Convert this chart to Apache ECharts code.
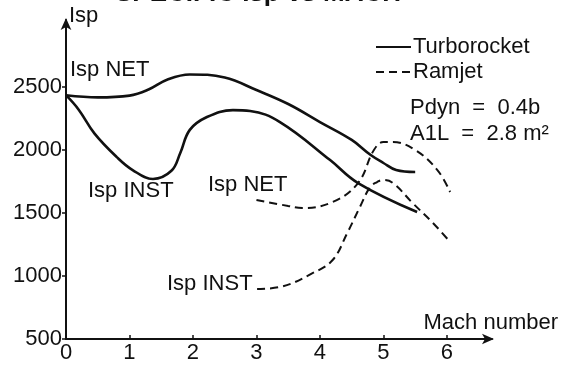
<!DOCTYPE html>
<html>
<head>
<meta charset="utf-8">
<script src="https://cdn.jsdelivr.net/npm/echarts@6/dist/echarts.min.js"></script>
<style>html,body{margin:0;padding:0;background:#fff}#c{width:561px;height:367px}</style>
</head>
<body>
<div id="c"></div>
<script>
// ---- data ----
const machTicks = [0, 1, 2, 3, 4, 5, 6];
const ispTicks = [500, 1000, 1500, 2000, 2500];

const turboNetMach = [0, 0.5, 1.0, 1.3, 1.6, 1.95, 2.5, 3.0, 3.5, 4.0, 4.5, 4.8, 5.0, 5.2, 5.5];
const turboNetIsp  = [2435, 2418, 2432, 2480, 2560, 2600, 2575, 2476, 2365, 2222, 2080, 1960, 1897, 1841, 1825];

const turboInstMach = [0, 0.2, 0.45, 0.8, 1.05, 1.37, 1.66, 1.8, 1.95, 2.22, 2.63, 2.9, 3.37, 4.16, 4.6, 5.53];
const turboInstIsp  = [2435, 2320, 2130, 1944, 1841, 1770, 1835, 1976, 2160, 2262, 2317, 2310, 2222, 1920, 1738, 1508];

const ramNetMach = [3.0, 3.5, 3.72, 4.2, 4.6, 4.85, 5.0, 5.15, 5.5, 5.85, 6.05];
const ramNetIsp  = [1603, 1556, 1540, 1587, 1738, 2000, 2063, 2063, 2000, 1841, 1667];

const ramInstMach = [3.01, 3.37, 3.89, 4.2, 4.43, 4.63, 4.79, 4.9, 4.99, 5.15, 5.46, 5.78, 6.05];
const ramInstIsp  = [897, 913, 1024, 1127, 1341, 1548, 1706, 1746, 1762, 1738, 1579, 1421, 1270];

const zip = (xs, ys) => xs.map((x, i) => [x, ys[i]]);
const FONT = '"Liberation Sans", Arial, Helvetica, sans-serif';
const FS = 22;

const chart = echarts.init(document.getElementById('c'), null, {renderer: 'canvas'});
const solid = {color: '#111', width: 2.6, type: 'solid'};
const dashed = {color: '#111', width: 2, type: [8, 5]};

chart.setOption({
  animation: false,
  backgroundColor: '#fff',
  grid: {left: 66, right: 69, top: 20, bottom: 28},
  xAxis: {
    type: 'value', min: 0, max: 6.71, interval: 1,
    axisLine: {lineStyle: {color: '#111', width: 2}, symbol: ['none', 'arrow'], symbolSize: [8, 12], symbolOffset: [0, 2]},
    axisTick: {inside: true, length: 4, lineStyle: {color: '#111', width: 1.5}, customValues: machTicks},
    axisLabel: {color: '#111', fontSize: FS, fontFamily: FONT, margin: 3, customValues: machTicks, formatter: v => String(v)},
    splitLine: {show: false}
  },
  yAxis: {
    type: 'value', min: 500, max: 3032, interval: 500,
    axisLine: {lineStyle: {color: '#111', width: 2}, symbol: ['none', 'arrow'], symbolSize: [8, 12], symbolOffset: [0, 2]},
    axisTick: {inside: false, length: 4, lineStyle: {color: '#111', width: 1.5}, customValues: ispTicks},
    axisLabel: {color: '#111', fontSize: FS, fontFamily: FONT, margin: 4, customValues: ispTicks, formatter: v => String(v)},
    splitLine: {show: false}
  },
  legend: {
    orient: 'vertical', left: 375, top: 36, itemWidth: 35, itemHeight: 14, itemGap: 3, padding: 0,
    data: ['Turborocket', 'Ramjet'],
    itemStyle: {opacity: 0},
    textStyle: {color: '#111', fontSize: FS, fontFamily: FONT, lineHeight: 22, padding: [0, 0, 0, -3]}
  },
  series: [
    {name: 'Turborocket', type: 'line', data: zip(turboNetMach, turboNetIsp), smooth: 0.4, symbol: 'none', lineStyle: solid, itemStyle: {color: '#111'}},
    {name: 'Turborocket', type: 'line', data: zip(turboInstMach, turboInstIsp), smooth: 0.4, symbol: 'none', lineStyle: solid, itemStyle: {color: '#111'}},
    {name: 'Ramjet', type: 'line', data: zip(ramNetMach, ramNetIsp), smooth: 0.4, symbol: 'none', lineStyle: dashed, itemStyle: {color: '#111'}},
    {name: 'Ramjet', type: 'line', data: zip(ramInstMach, ramInstIsp), smooth: 0.4, symbol: 'none', lineStyle: dashed, itemStyle: {color: '#111'}}
  ],
  graphic: [
    {type: 'text', left: 115, top: -19, style: {text: 'SPECIFIC Isp vs MACH', font: 'bold 26px ' + FONT, fill: '#111'}},
    {type: 'text', x: 69, y: 16, style: {text: 'Isp', font: FS + 'px ' + FONT, fill: '#111', verticalAlign: 'middle'}},
    {type: 'text', x: 558, y: 323, style: {text: 'Mach number', font: FS + 'px ' + FONT, fill: '#111', align: 'right', verticalAlign: 'middle'}},
    {type: 'text', x: 70, y: 70, style: {text: 'Isp NET', font: FS + 'px ' + FONT, fill: '#111', verticalAlign: 'middle'}},
    {type: 'text', x: 88, y: 191, style: {text: 'Isp INST', font: FS + 'px ' + FONT, fill: '#111', verticalAlign: 'middle'}},
    {type: 'text', x: 208, y: 185, style: {text: 'Isp NET', font: FS + 'px ' + FONT, fill: '#111', verticalAlign: 'middle'}},
    {type: 'text', x: 167, y: 284, style: {text: 'Isp INST', font: FS + 'px ' + FONT, fill: '#111', verticalAlign: 'middle'}},
    {type: 'text', x: 410, y: 108, style: {text: 'Pdyn  =  0.4b', font: FS + 'px ' + FONT, fill: '#111', verticalAlign: 'middle'}},
    {type: 'text', x: 410, y: 134, style: {text: 'A1L  =  2.8 m²', font: FS + 'px ' + FONT, fill: '#111', verticalAlign: 'middle'}}
  ]
});
</script>
</body>
</html>
